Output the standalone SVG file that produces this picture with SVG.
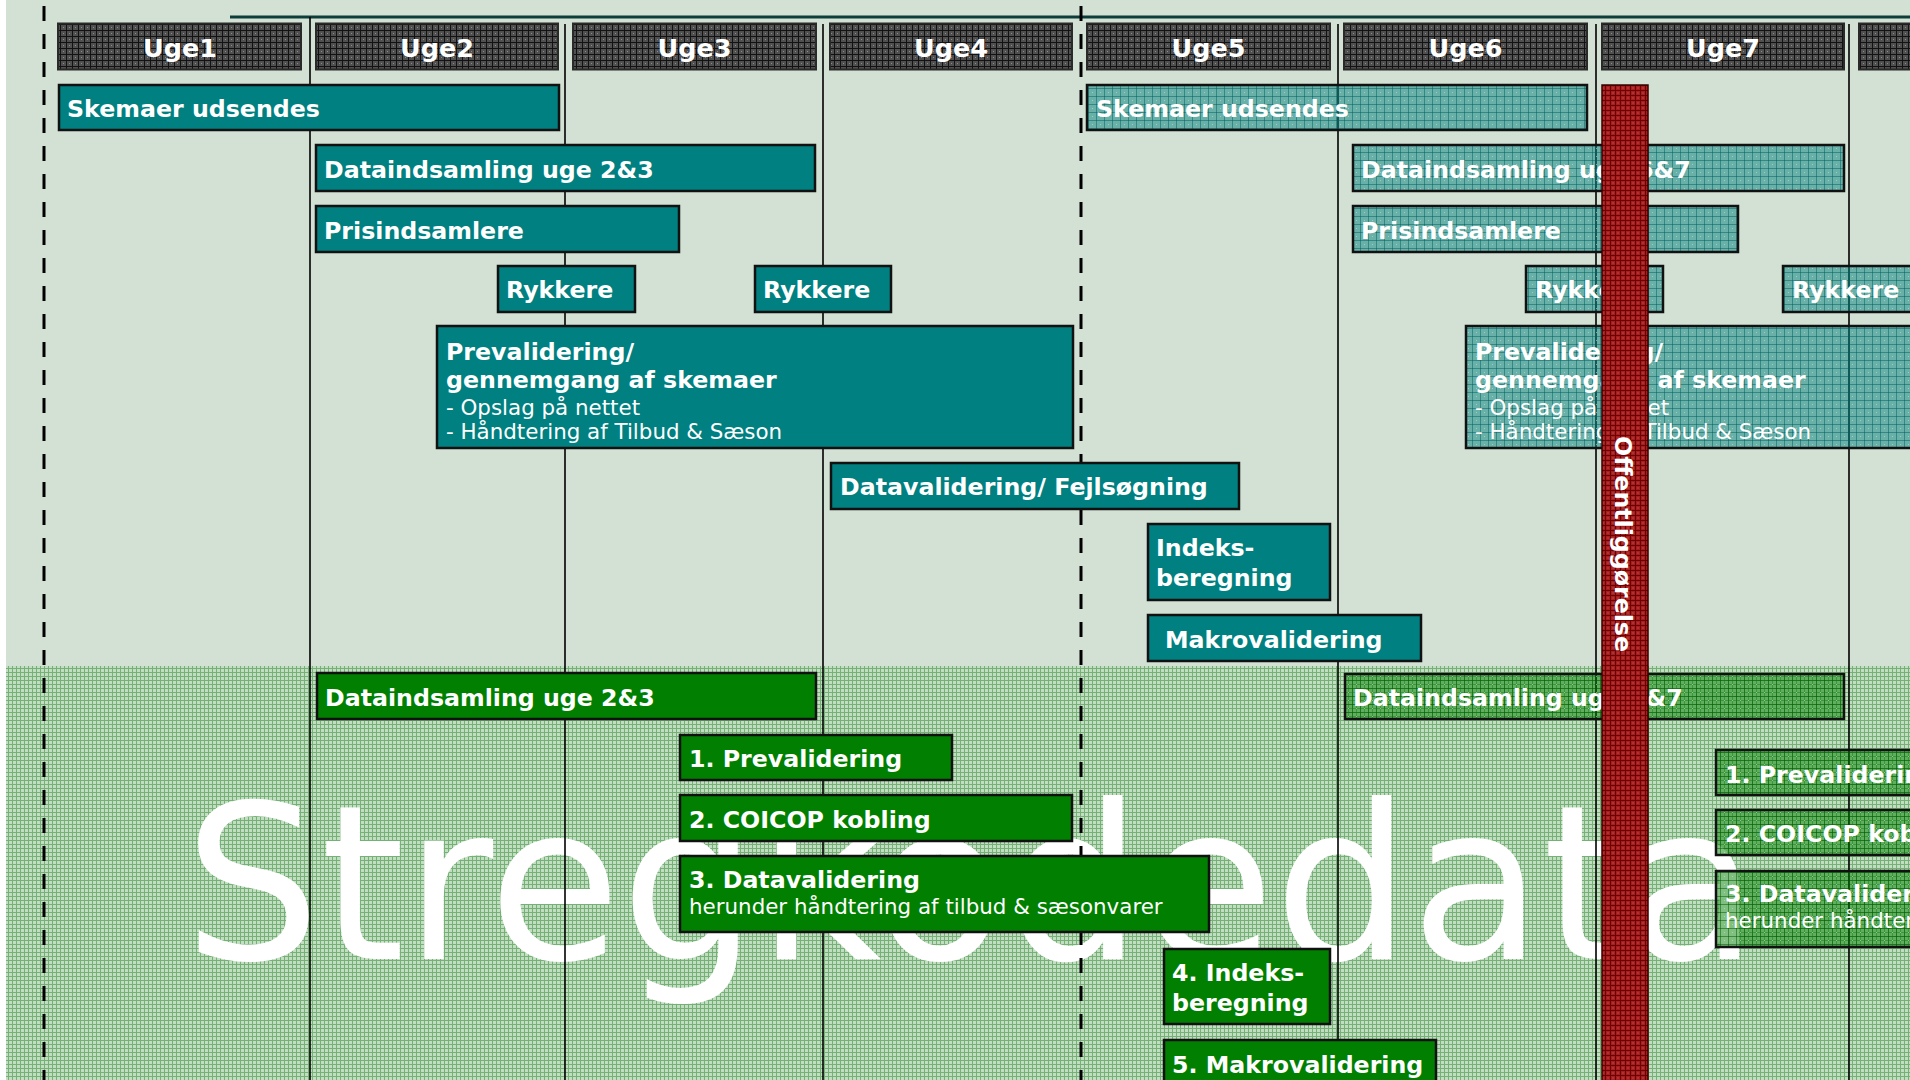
<svg xmlns="http://www.w3.org/2000/svg" width="1910" height="1080" viewBox="0 0 1910 1080">
<defs>
<pattern id="pHdr" width="6" height="6" patternUnits="userSpaceOnUse">
<rect width="6" height="6" fill="#505050"/>
<path d="M0 0.5H6M0.5 0V6" stroke="#121212" stroke-width="1"/>
<rect x="3" y="3" width="1" height="1" fill="#8c8c8c"/>
</pattern>
<pattern id="pBg" width="4" height="4" patternUnits="userSpaceOnUse">
<rect width="4" height="4" fill="#c3ddc2"/>
<path d="M0 0.5H4M0.5 0V4" stroke="#74b174" stroke-width="1"/>
</pattern>
<pattern id="pTeal" width="8" height="8" patternUnits="userSpaceOnUse">
<rect width="8" height="8" fill="#008080" fill-opacity="0.5"/>
<path d="M0 0.5H8M0.5 0V8" stroke="#005f5f" stroke-opacity="0.5" stroke-width="1"/>
<rect x="4" y="4" width="1" height="1" fill="#bfe0dc" fill-opacity="0.6"/>
</pattern>
<pattern id="pGreen" width="8" height="8" patternUnits="userSpaceOnUse">
<rect width="8" height="8" fill="#007f00" fill-opacity="0.5"/>
<path d="M0 0.5H8M0.5 0V8" stroke="#005500" stroke-opacity="0.5" stroke-width="1"/>
<rect x="4" y="4" width="1" height="1" fill="#c8e4c8" fill-opacity="0.6"/>
</pattern>
<pattern id="pRed" width="5" height="5" patternUnits="userSpaceOnUse">
<rect width="5" height="5" fill="#a81d1d"/>
<path d="M0 0.5H5M0.5 0V5" stroke="#6a0000" stroke-width="1"/>
<rect x="2.5" y="2.5" width="1" height="1" fill="#c86a6a"/>
</pattern>
<style>
.bx{stroke:#111;stroke-width:2.5}
.teal{fill:#008080}
.green{fill:#007f00}
.tealH{fill:url(#pTeal)}
.greenH{fill:url(#pGreen)}
.hdr{fill:url(#pHdr);stroke:#2a2a2a;stroke-width:2}
.t{font-family:"DejaVu Sans",Verdana,sans-serif;font-weight:bold;font-size:23.7px;fill:#fff}
.s{font-family:"DejaVu Sans",Verdana,sans-serif;font-size:21.4px;fill:#fff}
.h{font-size:25.5px;text-anchor:middle}
.grid{stroke:#000;stroke-width:1.6}
.dash{stroke:#000;stroke-width:3;stroke-dasharray:15 13}
</style>
</defs>

<!-- background -->
<rect x="0" y="0" width="1910" height="1080" fill="#ffffff"/>
<rect x="6" y="0" width="1904" height="666" fill="#d2e1d3"/>
<rect x="6" y="666" width="1904" height="414" fill="url(#pBg)"/>
<text x="184" y="959" font-family="DejaVu Sans,Verdana,sans-serif" font-size="215" fill="#ffffff">Stregkodedata</text>

<g id="gridlines">
<line x1="230" y1="17" x2="1910" y2="17" stroke="#0d3d3a" stroke-width="3"/>
<line class="grid" x1="310" y1="17" x2="310" y2="1080"/>
<line class="grid" x1="565" y1="24" x2="565" y2="1080"/>
<line class="grid" x1="823" y1="24" x2="823" y2="1080"/>
<line class="grid" x1="1338" y1="24" x2="1338" y2="1080"/>
<line class="grid" x1="1596" y1="24" x2="1596" y2="1080"/>
<line class="grid" x1="1849" y1="24" x2="1849" y2="1080"/>
<line class="dash" x1="44" y1="6" x2="44" y2="1080"/>
<line class="dash" x1="1081" y1="6" x2="1081" y2="1080"/>
</g>

<!-- week headers -->
<g id="uge1"><rect class="hdr" x="58" y="23.5" width="243" height="46"/><text class="t h" x="180" y="57">Uge1</text></g>
<g id="uge2"><rect class="hdr" x="316" y="23.5" width="242" height="46"/><text class="t h" x="437" y="57">Uge2</text></g>
<g id="uge3"><rect class="hdr" x="573" y="23.5" width="243" height="46"/><text class="t h" x="694.5" y="57">Uge3</text></g>
<g id="uge4"><rect class="hdr" x="830" y="23.5" width="242" height="46"/><text class="t h" x="951" y="57">Uge4</text></g>
<g id="uge5"><rect class="hdr" x="1087" y="23.5" width="243" height="46"/><text class="t h" x="1208.5" y="57">Uge5</text></g>
<g id="uge6"><rect class="hdr" x="1344" y="23.5" width="243" height="46"/><text class="t h" x="1465.5" y="57">Uge6</text></g>
<g id="uge7"><rect class="hdr" x="1602" y="23.5" width="242" height="46"/><text class="t h" x="1723" y="57">Uge7</text></g>
<g id="uge8"><rect class="hdr" x="1859" y="23.5" width="242" height="46"/></g>

<!-- survey (teal) tasks, first cycle -->
<g id="skemaer1"><rect class="bx teal" x="59" y="85" width="500" height="45"/><text class="t" x="67" y="117">Skemaer udsendes</text></g>
<g id="dataind1"><rect class="bx teal" x="316" y="145" width="499" height="46"/><text class="t" x="324" y="178">Dataindsamling uge 2&amp;3</text></g>
<g id="pris1"><rect class="bx teal" x="316" y="206" width="363" height="46"/><text class="t" x="324" y="239">Prisindsamlere</text></g>
<g id="rykkere1"><rect class="bx teal" x="498" y="266" width="137" height="46"/><text class="t" x="506" y="298">Rykkere</text></g>
<g id="rykkere2"><rect class="bx teal" x="755" y="266" width="136" height="46"/><text class="t" x="763" y="298">Rykkere</text></g>
<g id="preval1"><rect class="bx teal" x="437" y="326" width="636" height="122"/>
<text class="t" x="446" y="360">Prevalidering/</text>
<text class="t" x="446" y="388">gennemgang af skemaer</text>
<text class="s" x="446" y="415">- Opslag på nettet</text>
<text class="s" x="446" y="439">- Håndtering af Tilbud &amp; Sæson</text></g>
<g id="dataval1"><rect class="bx teal" x="831" y="463" width="408" height="46"/><text class="t" x="840" y="495">Datavalidering/ Fejlsøgning</text></g>
<g id="indeks1"><rect class="bx teal" x="1148" y="524" width="182" height="76"/><text class="t" x="1156" y="556">Indeks-</text><text class="t" x="1156" y="586">beregning</text></g>
<g id="makro1"><rect class="bx teal" x="1148" y="615" width="273" height="46"/><text class="t" x="1165" y="648">Makrovalidering</text></g>

<!-- survey (teal) tasks, second cycle -->
<g id="skemaer2"><rect class="bx tealH" x="1087" y="85" width="500" height="45"/><text class="t" x="1096" y="117">Skemaer udsendes</text></g>
<g id="dataind2"><rect class="bx tealH" x="1353" y="145" width="491" height="46"/><text class="t" x="1361" y="178">Dataindsamling uge 6&amp;7</text></g>
<g id="pris2"><rect class="bx tealH" x="1353" y="206" width="385" height="46"/><text class="t" x="1361" y="239">Prisindsamlere</text></g>
<g id="rykkere3"><rect class="bx tealH" x="1526" y="266" width="137" height="46"/><text class="t" x="1535" y="298">Rykkere</text></g>
<g id="rykkere4"><rect class="bx tealH" x="1783" y="266" width="200" height="46"/><text class="t" x="1792" y="298">Rykkere</text></g>
<g id="preval2"><rect class="bx tealH" x="1466" y="326" width="600" height="122"/>
<text class="t" x="1475" y="360">Prevalidering/</text>
<text class="t" x="1475" y="388">gennemgang af skemaer</text>
<text class="s" x="1475" y="415">- Opslag på nettet</text>
<text class="s" x="1475" y="439">- Håndtering af Tilbud &amp; Sæson</text></g>

<!-- scanner data (green) tasks, first cycle -->
<g id="gdataind1"><rect class="bx green" x="317" y="673" width="499" height="46"/><text class="t" x="325" y="706">Dataindsamling uge 2&amp;3</text></g>
<g id="gpreval1"><rect class="bx green" x="680" y="735" width="272" height="45"/><text class="t" x="689" y="767">1. Prevalidering</text></g>
<g id="gcoicop1"><rect class="bx green" x="680" y="795" width="392" height="46"/><text class="t" x="689" y="828">2. COICOP kobling</text></g>
<g id="gdataval1"><rect class="bx green" x="680" y="856" width="529" height="76"/><text class="t" x="689" y="888">3. Datavalidering</text><text class="s" x="689" y="914">herunder håndtering af tilbud &amp; sæsonvarer</text></g>
<g id="gindeks1"><rect class="bx green" x="1164" y="949" width="166" height="75"/><text class="t" x="1172" y="981">4. Indeks-</text><text class="t" x="1172" y="1011">beregning</text></g>
<g id="gmakro1"><rect class="bx green" x="1164" y="1040" width="272" height="60"/><text class="t" x="1172" y="1073">5. Makrovalidering</text></g>

<!-- scanner data (green) tasks, second cycle -->
<g id="gdataind2"><rect class="bx greenH" x="1345" y="674" width="499" height="45"/><text class="t" x="1353" y="706">Dataindsamling uge 6&amp;7</text></g>
<g id="gpreval2"><rect class="bx greenH" x="1716" y="750" width="260" height="45"/><text class="t" x="1725" y="783">1. Prevalidering</text></g>
<g id="gcoicop2"><rect class="bx greenH" x="1716" y="810" width="260" height="45"/><text class="t" x="1725" y="842">2. COICOP kobling</text></g>
<g id="gdataval2"><rect class="bx greenH" x="1716" y="871" width="260" height="76"/><text class="t" x="1725" y="902">3. Datavalidering</text><text class="s" x="1725" y="928">herunder håndtering af tilbud &amp; sæsonvarer</text></g>

<!-- publication band -->
<g id="offentliggoerelse"><rect x="1602" y="85" width="46" height="1000" fill="url(#pRed)" stroke="#3a0000" stroke-width="1.5"/>
<text class="t" transform="translate(1615 436) rotate(90)">Offentliggørelse</text></g>
</svg>
